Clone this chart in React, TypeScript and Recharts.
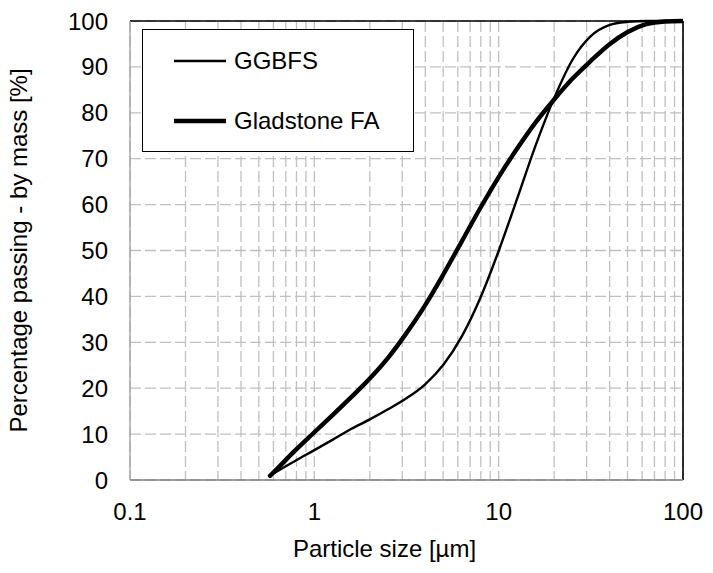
import React from "react";
import {
  LineChart,
  Line,
  XAxis,
  YAxis,
  CartesianGrid,
  ReferenceLine,
  Legend,
} from "recharts";

const FONT = "'Liberation Sans', Arial, sans-serif";

const xTicks = [0.1, 1, 10, 100];
const gridTicks = [
  0.2, 0.3, 0.4, 0.5, 0.6, 0.7, 0.8, 0.9, 1, 2, 3, 4, 5, 6, 7, 8, 9, 10, 20,
  30, 40, 50, 60, 70, 80, 90,
];
const yTicks = [0, 10, 20, 30, 40, 50, 60, 70, 80, 90, 100];

const ggbfsSize = [
  0.575, 0.63, 0.79, 1.0, 1.26, 1.58, 2.0, 2.51, 3.16, 3.98, 5.01, 6.31, 7.94,
  10, 12.6, 15.8, 20, 25.1, 31.6, 39.8, 50.1, 63.1, 100,
];
const ggbfsPassing = [
  0.9, 1.9, 4.2, 6.5, 8.8, 11.1, 13.2, 15.4, 17.8, 20.8, 25.1, 31.3, 39.6, 49.9,
  61.3, 72.7, 83.2, 91.5, 96.7, 99.1, 99.8, 100, 100,
];

const faSize = [
  0.575, 0.63, 0.79, 1.0, 1.26, 1.58, 2.0, 2.51, 3.16, 3.98, 5.01, 6.31, 7.94,
  10, 12.6, 15.8, 20, 25.1, 31.6, 39.8, 50.1, 63.1, 79.4, 100,
];
const faPassing = [
  0.9, 2.5, 6.5, 10.4, 14.2, 18.0, 22.1, 26.6, 32.0, 38.0, 44.8, 52.0, 59.2,
  66.0, 72.2, 77.8, 82.9, 87.4, 91.3, 94.9, 97.6, 99.3, 99.9, 100,
];

const seriesNames = ["GGBFS", "Gladstone FA"];
const seriesWidths = [2.4, 4.4];

const ggbfsData = ggbfsSize.map((x, i) => ({ x, y: ggbfsPassing[i] }));
const faData = faSize.map((x, i) => ({ x, y: faPassing[i] }));

const LegendBox = () => (
  <div
    style={{
      width: 272,
      height: 123,
      boxSizing: "border-box",
      border: "1.5px solid #000",
      background: "#fff",
      position: "relative",
      fontFamily: FONT,
      fontSize: 24,
      color: "#000",
    }}
  >
    {seriesNames.map((name, i) => (
      <div
        key={name}
        style={{
          position: "absolute",
          left: 30,
          top: 31 + i * 60 - 15,
          height: 30,
          display: "flex",
          alignItems: "center",
          whiteSpace: "nowrap",
        }}
      >
        <svg width={54} height={30} style={{ display: "block" }}>
          <line
            x1={1}
            y1={15}
            x2={53}
            y2={15}
            stroke="#000"
            strokeWidth={seriesWidths[i]}
          />
        </svg>
        <span style={{ marginLeft: 7, lineHeight: "30px" }}>{name}</span>
      </div>
    ))}
  </div>
);

export default function App() {
  return (
    <div style={{ width: 705, height: 565 }}>
      <LineChart
        width={705}
        height={565}
        margin={{ top: 13, right: 30, bottom: 0, left: 0 }}
      >
        <CartesianGrid
          xAxisId="grid"
          stroke="#c0c0c0"
          strokeWidth={1.3}
          strokeDasharray="11 4"
        />
        <XAxis
          xAxisId="grid"
          dataKey="x"
          type="number"
          scale="log"
          domain={[0.1, 100]}
          ticks={gridTicks}
          interval={0}
          allowDataOverflow
          hide
        />
        <XAxis
          dataKey="x"
          type="number"
          scale="log"
          domain={[0.1, 100]}
          ticks={xTicks}
          interval={0}
          allowDataOverflow
          height={93}
          tickLine={false}
          tickSize={0}
          tickMargin={23}
          axisLine={{ stroke: "#808080", strokeWidth: 1.6 }}
          tick={{ fill: "#000", fontSize: 24, fontFamily: FONT }}
          label={{
            value: "Particle size [µm]",
            position: "insideBottom",
            offset: 16,
            dx: -22,
            fill: "#000",
            fontSize: 24,
            fontFamily: FONT,
          }}
        />
        <YAxis
          type="number"
          domain={[0, 100]}
          ticks={yTicks}
          interval={0}
          width={122}
          tickLine={false}
          tickSize={0}
          tickMargin={22}
          axisLine={{ stroke: "#a0a0a0", strokeWidth: 1.3 }}
          tick={{ fill: "#000", fontSize: 24, fontFamily: FONT }}
          label={{
            value: "Percentage passing - by mass [%]",
            angle: -90,
            position: "insideLeft",
            offset: 10.5,
            fill: "#000",
            fontSize: 24,
            fontFamily: FONT,
            style: { textAnchor: "middle" },
          }}
        />
        <ReferenceLine y={100} stroke="#000" strokeWidth={1.6} />
        <ReferenceLine x={100} stroke="#000" strokeWidth={1.6} />
        <Line
          data={ggbfsData}
          dataKey="y"
          name={seriesNames[0]}
          type="monotone"
          stroke="#000"
          strokeWidth={seriesWidths[0]}
          dot={false}
          strokeLinecap="round"
          isAnimationActive={false}
        />
        <Line
          data={faData}
          dataKey="y"
          name={seriesNames[1]}
          type="monotone"
          stroke="#000"
          strokeWidth={seriesWidths[1]}
          dot={false}
          strokeLinecap="round"
          isAnimationActive={false}
        />
        <Legend
          layout="vertical"
          align="center"
          verticalAlign="middle"
          content={() => <LegendBox />}
          wrapperStyle={{
            position: "absolute",
            left: 134,
            top: 21,
            width: 272,
            height: 123,
          }}
        />
      </LineChart>
    </div>
  );
}
